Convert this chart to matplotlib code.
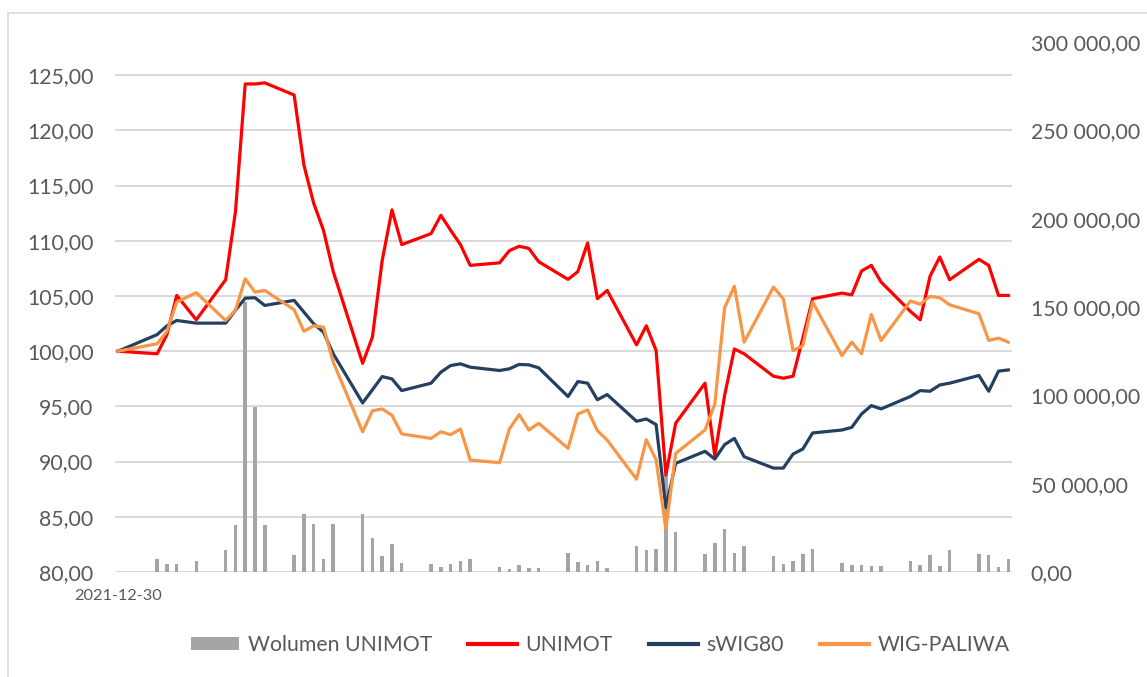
import numpy as np
import matplotlib
matplotlib.use("Agg")
import matplotlib.pyplot as plt
from matplotlib.patches import Rectangle, Patch
from matplotlib.lines import Line2D
from matplotlib.ticker import FuncFormatter
import matplotlib.transforms as mtransforms

dates = ["2021-12-30",
         "2022-01-03", "2022-01-04", "2022-01-05", "2022-01-07",
         "2022-01-10", "2022-01-11", "2022-01-12", "2022-01-13", "2022-01-14",
         "2022-01-17", "2022-01-18", "2022-01-19", "2022-01-20", "2022-01-21",
         "2022-01-24", "2022-01-25", "2022-01-26", "2022-01-27", "2022-01-28",
         "2022-01-31", "2022-02-01", "2022-02-02", "2022-02-03", "2022-02-04",
         "2022-02-07", "2022-02-08", "2022-02-09", "2022-02-10", "2022-02-11",
         "2022-02-14", "2022-02-15", "2022-02-16", "2022-02-17", "2022-02-18",
         "2022-02-21", "2022-02-22", "2022-02-23", "2022-02-24", "2022-02-25",
         "2022-02-28", "2022-03-01", "2022-03-02", "2022-03-03", "2022-03-04",
         "2022-03-07", "2022-03-08", "2022-03-09", "2022-03-10", "2022-03-11",
         "2022-03-14", "2022-03-15", "2022-03-16", "2022-03-17", "2022-03-18",
         "2022-03-21", "2022-03-22", "2022-03-23", "2022-03-24", "2022-03-25",
         "2022-03-28", "2022-03-29", "2022-03-30", "2022-03-31"]

unimot = [100, 99.76, 101.5, 105.05, 102.84, 106.47, 112.6, 124.2, 124.2, 124.3,
          123.2, 116.85, 113.4, 110.95, 107.2, 98.9, 101.27, 108.2, 112.8, 109.65,
          110.65, 112.3, 110.95, 109.65, 107.77, 108.0, 109.1, 109.5, 109.3, 108.1,
          106.5, 107.2, 109.8, 104.75, 105.5, 100.57, 102.3, 100.06, 88.78, 93.47,
          97.1, 90.53, 95.98, 100.2, 99.76, 97.73, 97.55, 97.73, 101.2, 104.75,
          105.26, 105.1, 107.26, 107.77, 106.26, 103.6, 102.84, 106.78, 108.53, 106.47,
          108.32, 107.77, 105.05, 105.05]

swig80 = [100, 101.5, 102.3, 102.78, 102.54, 102.54, 103.7, 104.8, 104.84, 104.14,
          104.6, 103.54, 102.48, 101.72, 99.76, 95.31, 96.5, 97.7, 97.49, 96.43,
          97.1, 98.1, 98.7, 98.85, 98.55, 98.25, 98.4, 98.8, 98.76, 98.49,
          95.89, 97.25, 97.1, 95.6, 96.07, 93.65, 93.86, 93.35, 85.84, 89.84,
          90.93, 90.23, 91.53, 92.1, 90.44, 89.41, 89.41, 90.68, 91.14, 92.59,
          92.86, 93.1, 94.31, 95.07, 94.77, 95.9, 96.43, 96.37, 96.94, 97.1,
          97.8, 96.37, 98.19, 98.3]

wig_paliwa = [100, 100.67, 101.8, 104.45, 105.3, 102.78, 103.7, 106.56, 105.35, 105.5,
              103.75, 101.8, 102.3, 102.18, 99.0, 92.7, 94.6, 94.77, 94.2, 92.5,
              92.1, 92.7, 92.44, 92.95, 90.14, 89.9, 92.95, 94.25, 92.86, 93.47,
              91.2, 94.3, 94.68, 92.8, 91.95, 88.4, 91.98, 90.17, 83.88, 90.74,
              92.86, 95.2, 103.93, 105.87, 100.82, 105.8, 104.75, 100.06, 100.5, 104.45,
              99.6, 100.82, 99.76, 103.33, 100.97, 104.54, 104.25, 104.96, 104.84, 104.2,
              103.39, 100.97, 101.18, 100.82]

volume = [0, 7600, 4750, 4750, 6060, 12300, 26450, 153000, 93460, 26450,
          9460, 33070, 27000, 7600, 27000, 33070, 19480, 8900, 15700, 5300,
          4750, 2830, 4750, 6230, 7600, 2830, 1530, 4200, 2450, 2450,
          10980, 5660, 3780, 6040, 2450, 14960, 12700, 13100, 55000, 22650,
          10400, 16430, 24190, 10800, 14900, 8900, 4750, 6230, 10400, 13200,
          5300, 3780, 4150, 3400, 3200, 6040, 3780, 9460, 3400, 12700,
          10400, 9460, 2830, 7200]

left_ticks = [80, 85, 90, 95, 100, 105, 110, 115, 120, 125]
right_ticks = [0, 50000, 100000, 150000, 200000, 250000, 300000]
x_tick_labels = ["2021-12-30"]

d = np.array(dates, dtype="datetime64[D]")
x = (d - d[0]).astype(int)

plt.rcParams['font.family'] = ['Lato', 'DejaVu Sans']
TXT = '#595959'
GRID = '#D9D9D9'

W, H = 1147, 677
fig = plt.figure(figsize=(W / 100, H / 100), dpi=100)
ax = fig.add_axes([115 / W, 105 / H, 897 / W, 530 / H])
ax2 = ax.twinx()
ax.set_zorder(2)
ax.patch.set_visible(False)
ax2.set_zorder(1)

ax.set_xlim(-0.31, 91.38)
ax.set_ylim(80, 128)
ax2.set_ylim(0, 300000)

# gridlines behind bars
trans = mtransforms.blended_transform_factory(ax2.transAxes, ax.transData)
for v in left_ticks:
    ax2.plot([0, 1], [v, v], transform=trans, color=GRID, lw=1.4, zorder=0,
             solid_capstyle='butt')

ax2.bar(x, volume, width=0.36, color='#A5A5A5', zorder=2)

ax.plot(x, unimot, color='#FF0000', lw=2.3, zorder=3)
ax.plot(x, swig80, color='#243F60', lw=2.3, zorder=4)
ax.plot(x, wig_paliwa, color='#F79646', lw=2.3, zorder=5)

for a in (ax, ax2):
    for s in a.spines.values():
        s.set_visible(False)

ax.set_yticks(left_ticks)
ax.yaxis.set_major_formatter(FuncFormatter(lambda v, p: f"{v:.2f}".replace('.', ',')))
ax2.set_yticks(right_ticks)
ax2.yaxis.set_major_formatter(FuncFormatter(
    lambda v, p: f"{v:,.2f}".replace(',', ' ').replace('.', ',')))
ax.set_xticks([0])
ax.set_xticklabels(x_tick_labels)

ax.tick_params(axis='y', length=0, pad=15.5, labelsize=15.3, labelcolor=TXT)
ax2.tick_params(axis='y', length=0, pad=13.5, labelsize=15.3, labelcolor=TXT)
ax.tick_params(axis='x', length=0, pad=12, labelsize=11.8, labelcolor=TXT)

handles = [Patch(facecolor='#A5A5A5', edgecolor='none'),
           Line2D([], [], color='#FF0000', lw=3),
           Line2D([], [], color='#243F60', lw=3),
           Line2D([], [], color='#F79646', lw=3)]
labels = ["Wolumen UNIMOT", "UNIMOT", "sWIG80", "WIG-PALIWA"]
fig.legend(handles, labels, loc='center', bbox_to_anchor=(600 / W, 1 - 645 / H),
           ncol=4, frameon=False, fontsize=15.3, labelcolor=TXT,
           handlelength=2.3, handleheight=0.6, handletextpad=0.4, columnspacing=1.7)

fig.add_artist(Rectangle((8 / W, -0.1), 1.2, (1 - 13 / H) + 0.1,
                         transform=fig.transFigure, fill=False,
                         edgecolor=GRID, lw=1.2))

fig.savefig("out.png", dpi=100)
